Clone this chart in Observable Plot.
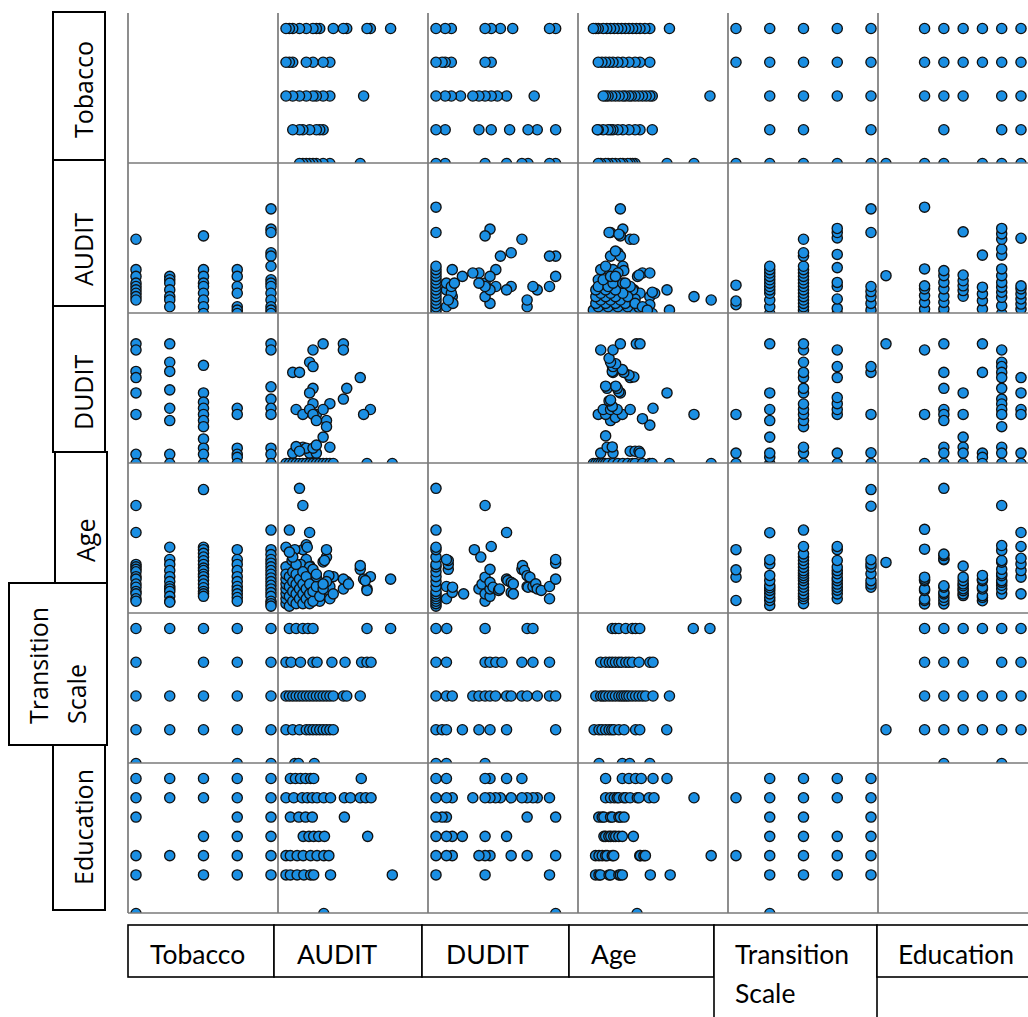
<!DOCTYPE html>
<html>
<head>
<meta charset="utf-8">
<script src="https://cdn.jsdelivr.net/npm/d3@7"></script>
<script src="https://cdn.jsdelivr.net/npm/@observablehq/plot@0.6"></script>
<style>
  html, body { margin: 0; padding: 0; background: #fff; }
  #chart { position: relative; width: 1028px; height: 1017px; overflow: hidden; background: #fff; }
  .panel { position: absolute; width: 150px; height: 150px; }
  #overlay { position: absolute; left: 0; top: 0; pointer-events: none; }
</style>
</head>
<body>
<div id="chart"></div>
<script>
// ---- variables (order of rows / columns) ----
const variables = ["Tobacco", "AUDIT", "DUDIT", "Age", "Transition Scale", "Education"];
const domains = [[1, 5], [0, 40], [0, 44], [15, 70], [1, 5], [0, 7]];

// ---- pairwise observations [first variable, second variable] ----
const tobaccoAudit = [
  [1,22],[1,13],[1,11],[1,9],[1,8],[1,7],[1,6],[1,5],[1,4],
  [2,11],[2,10],[2,9],[2,7],[2,5],[2,4],[2,2],
  [3,23],[3,13],[3,11],[3,9],[3,8],[3,6],[3,4],[3,2],[3,0],
  [4,13],[4,11],[4,8],[4,6],[4,2],[4,1],[4,0],
  [5,31],[5,25],[5,24],[5,18],[5,17],[5,14],[5,10],[5,9],[5,8],[5,6],[5,4],[5,2],[5,1],[5,0]
];
const tobaccoDudit = [
  [1,39],[1,37],[1,30],[1,28],[1,23],[1,16],[1,3],[1,0],
  [2,39],[2,33],[2,30],[2,24],[2,18],[2,14],[2,3],[2,0],
  [3,32],[3,23],[3,20],[3,18],[3,16],[3,14],[3,12],[3,8],[3,5],[3,3],[3,0],
  [4,18],[4,16],[4,5],[4,3],[4,2],[4,0],
  [5,39],[5,37],[5,25],[5,21],[5,18],[5,16],[5,5],[5,3],[5,0]
];
const tobaccoAge = [
  [1,59],[1,48],[1,35],[1,34],[1,33],[1,32],[1,30],[1,29],[1,27],[1,25.7],[1,24],[1,23],[1,21],[1,20],
  [2,42],[2,37],[2,35],[2,32.5],[2,30],[2,28],[2,26],[2,25],[2,24],[2,22],[2,20],[2,19.6],
  [3,65.5],[3,42],[3,41],[3,39.5],[3,38],[3,36.5],[3,35],[3,33.5],[3,32.5],[3,31],[3,30],[3,28.5],[3,27],[3,25.5],[3,24],[3,23],[3,22],
  [4,41],[4,37],[4,35],[4,32.5],[4,30],[4,28],[4,26],[4,24.5],[4,23],[4,21.5],[4,20],
  [5,49],[5,41],[5,39],[5,37],[5,35.5],[5,34],[5,32.5],[5,31],[5,29.5],[5,28],[5,26.5],[5,25],[5,23.5],[5,22],[5,20],[5,19],[5,18]
];
const tobaccoTransition = [
  [1,5],[2,5],[3,5],[4,5],[5,5],
  [1,4],[3,4],[4,4],[5,4],
  [1,3],[2,3],[3,3],[4,3],[5,3],
  [1,2],[2,2],[3,2],[4,2],[5,2],
  [1,1],[4,1],[5,1]
];
const tobaccoEducation = [
  [1,7],[1,6],[1,5],[1,3],[1,2],[1,0],
  [2,7],[2,6],[2,3],
  [3,7],[3,6],[3,4],[3,3],[3,2],
  [4,7],[4,6],[4,5],[4,4],[4,3],[4,2],
  [5,7],[5,6],[5,5],[5,4],[5,3],[5,2]
];
const auditDudit = [
  [11,39],[17,39],[17,37],[8,37],[7,33],[8,31.6],[2,29.7],[4,29.7],[22,28],[8,24.5],[7,23],[18,24.5],
  [17,21],[13,19.5],[8,19.5],[3,17.6],[5,16],[7,17.6],[9,16],[11,17.6],[8,16],[12,14],[12,12],[9,14],
  [25,17.6],[23,16],[11,8.6],[5,5.3],[13,5.3],[2,3.4],[7,3.4],[9,3.4],[3,5.5],[6,5],[8,5],[9,6],[4,4],
  [0,0],[1,0],[2,0],[3,0],[4,0],[5,0],[6,0],[7,0],[8,0],[9,0],[10,0],[11,0],[12,0],[13,0],[14,0],[24,0],[31.5,0]
];
const auditAge = [
  [31,29],[24,25],[25,30],[23,29],[22,33],[22,34.5],[18,28],[17,25],[17,29],[14,30],[13,24],[13,26],
  [12.7,30.4],[12,38],[12,41],[11,36],[10,20],[9,22],[10,25],[8,29],[7,34.5],[6,37],[5,41],[6,43],
  [7,48],[5,59],[4,66],[1,49],[0,42],[2.6,41],[6.3,42],[11.4,36.6],[0,34],[1.8,36.6],[4.3,35],[7,34],
  [24,24.4],[18.5,27],[23.5,28.4],
  [0,19],[0,21],[0,23],[0,25],[0,27],[0,29],[0,31],[1,18],[1,22],[1,26],[1,30],[2,20],[2,24],[2,28],
  [2,32],[3,19],[3,23],[3,27],[3,31],[4,21],[4,25],[4,29],[5,19],[5,23],[5,27],[5,32],[6,21],[6,25],
  [6,30],[7,19],[7,23],[7,27],[8,20],[8,24],[9,26],[9,30],[10,22],[11,25],[12,28],[13,21],[14,23],
  [3,35],[2,38],[1,40],[8,33],[9,31],[11,27]
];
const auditTransition = [
  [1,5],[3,5],[5,5],[6.5,5],[8,5],[24,5],[31,5],
  [0,4],[1.5,4],[4.3,4],[8,4],[9.2,4],[13.6,4],[17.5,4],[22.4,4],[24,4],[25.2,4],
  [0,3],[1,3],[2,3],[3,3],[4,3],[5,3],[6,3],[7,3],[8,3],[9,3],[10,3],[11,3],[12,3],[13,3],[14,3],[17,3],[18,3],[22,3],
  [0,2],[2,2],[4,2],[6,2],[7,2],[8,2],[9,2],[10,2],[11,2],[12,2],[13,2],[14,2],
  [2.6,1],[3.7,1],[8.4,1]
];
const auditEducation = [
  [1.3,7],[2.8,7],[4.3,7],[5.8,7],[7.3,7],[8.2,7],[22.3,7],
  [0,6],[2.3,6],[4.8,6],[6.3,6],[7.8,6],[9.2,6],[11.2,6],[13.2,6],[17.3,6],[19.1,6],[22,6],[23.6,6],[25.2,6],
  [1.3,5],[3.8,5],[5.8,5],[7.8,5],[17.3,5],
  [5.1,4],[6.8,4],[8.2,4],[9.7,4],[11.4,4],[24.2,4],
  [0,3],[1.3,3],[3.3,3],[5.1,3],[7.3,3],[9.2,3],[11.2,3],[12.7,3],
  [0,2],[1.3,2],[3.3,2],[5.3,2],[7.3,2],[8.2,2],[13.2,2],[31.5,2],
  [11.2,0]
];
const duditAge = [
  [0,18],[0,19],[0,20],[0,21],[0,22],[0,23],[0,24],[0,26],[0,28],[0,30],[0,32],[0,34],[0,35],[0,38],[0,41],[0,42],[0,49],[0,66],
  [3.4,21],[3.4,26],[4,33],[4,35],[4,36.6],[3.4,37],[5.3,23.6],[5.4,25.7],[9,23],[12.5,41],[14,25],[14.6,38],
  [15,27],[16,20],[16,23],[16,29.8],[16,59],[17.6,22],[17.6,25],[17.6,27.7],[17.6,33],[18,42.3],[18.6,25.7],
  [20.4,24.4],[20.7,25],[23,29],[23,48],[23.4,28.4],[24.5,23.6],[24.5,27.7],[25.2,27.1],[25.2,23],
  [28,33],[28.2,34.5],[28.8,32.5],[29.7,26],[29.7,30.4],[30.6,29.8],[30,25.7],[31.9,25.7],[31.6,26],[32.5,27.1],[33,25],[34.3,24.4],
  [37,21],[37,26],[39,29],[39,35.5],[39,37]
];
const duditTransition = [
  [0,5],[3.5,5],[16,5],[29.7,5],[31.6,5],
  [0,4],[3.4,4],[16,4],[17.6,4],[19.5,4],[21.5,4],[28,4],[31.6,4],[37,4],
  [0,3],[3.4,3],[5.3,3],[12,3],[14,3],[16,3],[17.6,3],[19.4,3],[23,3],[24.5,3],[28,3],[29.7,3],[33,3],[37,3],[39,3],
  [0,2],[2,2],[3.4,2],[8.6,2],[14,2],[17.6,2],[23,2],[39,2],
  [0,1],[3.4,1],[16,1]
];
const duditEducation = [
  [39,0],
  [37,2],[16,2],[0,2],
  [39,3],[29.7,3],[24.5,3],[17.6,3],[16,3],[14,3],[5.3,3],[3.4,3],[0,3],
  [23,4],[16,4],[8.6,4],[5.3,4],[3.4,4],[0,4],
  [39,5],[29.7,5],[3.4,5],[2,5],[0,5],
  [37,6],[33,6],[31.6,6],[29.7,6],[28,6],[24.5,6],[21,6],[19.4,6],[17.6,6],[16,6],[12,6],[5.3,6],[3.4,6],[0,6],
  [28,7],[23,7],[17.6,7],[16,7],[3.4,7],[0,7]
];
const ageTransition = [
  [20.3,1],[29.8,1],[32.8,1],[41,1],
  [18.3,2],[20.3,2],[21.5,2],[23,2],[24.4,2],[25.5,2],[26.4,2],[28.4,2],[30.5,2],[35.2,2],[36.9,2],[47.9,2],
  [19,3],[21,3],[22,3],[23,3],[24.4,3],[25.7,3],[27,3],[28.4,3],[29.5,3],[30.5,3],[31.5,3],[32.5,3],[33.8,3],[35.2,3],[36.6,3],[38,3],[39.3,3],[42.3,3],[49,3],
  [21,4],[23,4],[24.5,4],[25.7,4],[27,4],[28.4,4],[29.5,4],[31.2,4],[32.5,4],[33.9,4],[36.6,4],[41,4],[42.3,4],
  [25.7,5],[27,5],[28.4,5],[31.2,5],[33.9,5],[35.2,5],[36.9,5],[58.7,5],[65.5,5]
];
const ageEducation = [
  [23,7],[29.8,7],[32.5,7],[35.2,7],[37.5,7],[42.3,7],[48,7],
  [23,6],[25,6],[26.5,6],[27.7,6],[28.4,6],[30.4,6],[31.2,6],[33,6],[35.9,6],[36.6,6],[40.7,6],[42.7,6],[59,6],
  [20.2,5],[21.6,5],[22.3,5],[25,5],[25.7,5],[28.4,5],[29,5],[30.5,5],
  [22.3,4],[23,4],[24.3,4],[25.1,4],[26.3,4],[27.1,4],[28.4,4],[29.8,4],[34.3,4],
  [18.9,3],[20.3,3],[21.6,3],[23,3],[23.6,3],[25.7,3],[26.3,3],[36.9,3],[37.2,3],[38.6,3],[39.2,3],[66,3],
  [18.9,2],[20.3,2],[20.9,2],[24.4,2],[25,2],[28.4,2],[29,2],[29.8,2],[41.2,2],[49.3,2],
  [35.8,0]
];
const transitionEducation = [
  [2,7],[3,7],[4,7],[5,7],
  [1,6],[2,6],[3,6],[4,6],[5,6],
  [2,5],[3,5],[5,5],
  [2,4],[3,4],[4,4],[5,4],
  [1,3],[2,3],[3,3],[4,3],[5,3],
  [2,2],[3,2],[4,2],[5,2],
  [2,0]
];

const pairData = {
  "0,1": tobaccoAudit, "0,2": tobaccoDudit, "0,3": tobaccoAge, "0,4": tobaccoTransition, "0,5": tobaccoEducation,
  "1,2": auditDudit, "1,3": auditAge, "1,4": auditTransition, "1,5": auditEducation,
  "2,3": duditAge, "2,4": duditTransition, "2,5": duditEducation,
  "3,4": ageTransition, "3,5": ageEducation,
  "4,5": transitionEducation
};

// ---- layout ----
const cell = 150, left0 = 128, top0 = 13;
const chart = document.getElementById("chart");

for (let r = 0; r < 6; r++) {
  for (let c = 0; c < 6; c++) {
    if (r === c) continue;
    const a = Math.min(r, c), b = Math.max(r, c);
    const data = pairData[a + "," + b];
    const xAcc = c === a ? (d => d[0]) : (d => d[1]);
    const yAcc = r === a ? (d => d[0]) : (d => d[1]);
    const svg = Plot.plot({
      width: cell, height: cell, margin: 0,
      style: {background: "transparent", overflow: "hidden"},
      x: {domain: domains[c], range: [7.5, 142.5], axis: null},
      y: {domain: domains[r], range: [150, 15], axis: null},
      marks: [
        Plot.dot(data, {x: xAcc, y: yAcc, r: 5.1, fill: "#1b8fe3", stroke: "#111", strokeWidth: 1.35, clip: true})
      ]
    });
    const div = document.createElement("div");
    div.className = "panel";
    div.style.left = (left0 + c * cell) + "px";
    div.style.top = (top0 + r * cell) + "px";
    div.appendChild(svg);
    chart.appendChild(div);
  }
}

// ---- overlay: grid lines and label boxes ----
const ns = "http://www.w3.org/2000/svg";
const ov = document.createElementNS(ns, "svg");
ov.setAttribute("id", "overlay");
ov.setAttribute("width", 1028);
ov.setAttribute("height", 1017);
chart.appendChild(ov);
function el(tag, attrs, text) {
  const e = document.createElementNS(ns, tag);
  for (const k in attrs) e.setAttribute(k, attrs[k]);
  if (text !== undefined) e.textContent = text;
  ov.appendChild(e);
  return e;
}
for (let c = 0; c < 6; c++) {
  const x = left0 + c * cell;
  el("line", {x1: x, x2: x, y1: top0, y2: top0 + 6 * cell, stroke: "#7a7a7a", "stroke-width": 1.7});
}
for (let r = 1; r <= 6; r++) {
  const y = top0 + r * cell;
  el("line", {x1: left0, x2: 1028, y1: y, y2: y, stroke: "#7a7a7a", "stroke-width": 1.7});
}

// left (row) labels
const leftFont = "'Open Sans', 'Noto Sans', sans-serif";
const leftBoxes = [
  {box: [53, 12, 52, 148], lines: [[93, 138, variables[0]]]},
  {box: [53, 160, 52, 146], lines: [[93, 286, variables[1]]]},
  {box: [53, 306, 52, 146], lines: [[93, 430, variables[2]]]},
  {box: [55, 452, 52, 131], lines: [[95, 562, variables[3]]]},
  {box: [9, 583, 98, 162], lines: [[48, 724, "Transition"], [86, 724, "Scale"]]},
  {box: [53, 745, 52, 165], lines: [[93, 885, variables[5]]]}
];
for (const lb of leftBoxes) {
  const [x, y, w, h] = lb.box;
  el("rect", {x, y, width: w, height: h, fill: "white", stroke: "#000", "stroke-width": 2});
  for (const [tx, ty, t] of lb.lines) {
    el("text", {transform: `translate(${tx},${ty}) rotate(-90)`, "font-family": leftFont, "font-size": 25, fill: "#000"}, t);
  }
}

// bottom (column) labels
const bottomFont = "Lato, 'Open Sans', sans-serif";
const bottomBoxes = [
  {box: [128, 925, 146, 52], lines: [[150, 964, variables[0]]]},
  {box: [274, 925, 148, 52], lines: [[297, 964, variables[1]]]},
  {box: [422, 925, 147, 52], lines: [[446, 964, variables[2]]]},
  {box: [569, 925, 145, 52], lines: [[591, 964, variables[3]]]},
  {box: [714, 925, 163, 110], lines: [[735, 964, "Transition"], [735, 1003, "Scale"]]},
  {box: [877, 925, 160, 52], lines: [[898, 964, variables[5]]]}
];
for (const lb of bottomBoxes) {
  const [x, y, w, h] = lb.box;
  el("rect", {x, y, width: w, height: h, fill: "white", stroke: "#000", "stroke-width": 1.6});
  for (const [tx, ty, t] of lb.lines) {
    el("text", {x: tx, y: ty, "font-family": bottomFont, "font-size": 26.5, fill: "#000"}, t);
  }
}
</script>
</body>
</html>
